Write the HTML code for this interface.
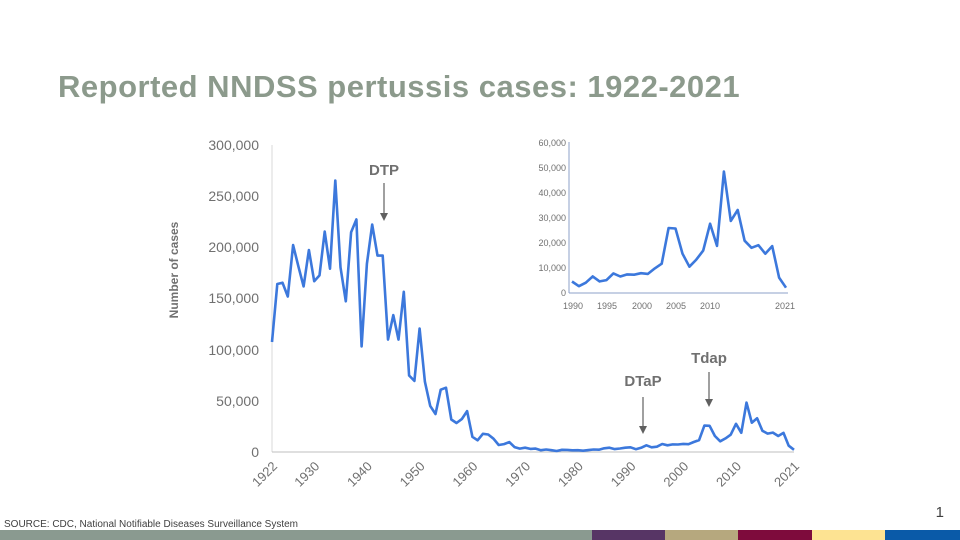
<!DOCTYPE html>
<html><head><meta charset="utf-8"><style>
body{margin:0;width:960px;height:540px;overflow:hidden;background:#fff;font-family:"Liberation Sans",sans-serif}
svg{position:absolute;left:0;top:0}
</style></head><body>
<svg id="s" width="960" height="540" xmlns="http://www.w3.org/2000/svg">
<text x="58" y="97" font-size="31" font-weight="bold" fill="#8c9a8c" letter-spacing="0.5" font-family="Liberation Sans, sans-serif">Reported NNDSS pertussis cases: 1922-2021</text>
<g font-size="14" fill="#707070" text-anchor="end" font-family="Liberation Sans, sans-serif">
<text x="259" y="150">300,000</text><text x="259" y="201">250,000</text><text x="259" y="252">200,000</text>
<text x="259" y="303">150,000</text><text x="259" y="355">100,000</text><text x="259" y="406">50,000</text><text x="259" y="457">0</text>
</g>
<text transform="translate(178,270) rotate(-90)" font-size="12" font-weight="bold" fill="#707070" text-anchor="middle">Number of cases</text>
<line x1="272" y1="145" x2="272" y2="452" stroke="#d9d9d9"/>
<line x1="272" y1="452" x2="794" y2="452" stroke="#bfbfbf"/>
<g font-size="9" fill="#707070" text-anchor="end">
<text x="566" y="146">60,000</text><text x="566" y="171">50,000</text><text x="566" y="196">40,000</text><text x="566" y="221">30,000</text><text x="566" y="246">20,000</text><text x="566" y="271">10,000</text><text x="566" y="296">0</text>
</g>
<g font-size="9" fill="#707070" text-anchor="middle">
<text x="573" y="309">1990</text><text x="607" y="309">1995</text><text x="642" y="309">2000</text><text x="676" y="309">2005</text><text x="710" y="309">2010</text><text x="785" y="309">2021</text>
</g>
<line x1="569" y1="142" x2="569" y2="293" stroke="#8ea0c8"/>
<line x1="569" y1="293" x2="788" y2="293" stroke="#8ea0c8"/>
<g font-size="15" font-weight="bold" fill="#707070" text-anchor="middle">
<text x="384" y="175">DTP</text><text x="643" y="386">DTaP</text><text x="709" y="363">Tdap</text>
</g>
<g stroke="#606060" stroke-width="1.2" fill="#606060">
<line x1="384" y1="183" x2="384" y2="214"/><polygon points="380,213 388,213 384,221" stroke="none"/>
<line x1="643" y1="397" x2="643" y2="427"/><polygon points="639,426 647,426 643,434" stroke="none"/>
<line x1="709" y1="372" x2="709" y2="400"/><polygon points="705,399 713,399 709,407" stroke="none"/>
</g>
<g id="xl" font-size="13" fill="#707070"></g>
<polyline id="m" fill="none" stroke="#3c78dc" stroke-width="2.6" stroke-linejoin="round"/>
<polyline id="i" fill="none" stroke="#3c78dc" stroke-width="2.6" stroke-linejoin="round"/>
<text x="4" y="527" font-size="10" fill="#404040">SOURCE:  CDC, National Notifiable Diseases Surveillance System</text>
<text x="944" y="517" font-size="15" fill="#404040" text-anchor="end">1</text>
<rect x="0" y="530" width="592" height="10" fill="#8a9a90"/>
<rect x="592" y="530" width="73" height="10" fill="#573565"/>
<rect x="665" y="530" width="73" height="10" fill="#b6a87e"/>
<rect x="738" y="530" width="74" height="10" fill="#7e0b3c"/>
<rect x="812" y="530" width="73" height="10" fill="#fde392"/>
<rect x="885" y="530" width="75" height="10" fill="#0a5aa8"/>
</svg>
<script>
var d=[107473,164191,165418,152003,202210,181411,161799,197371,166914,172559,215343,179135,265269,180518,147237,214652,227319,103188,183866,222202,191890,191943,109873,133792,109860,156517,74715,69479,120718,68687,45030,37129,60886,62786,31732,28295,32148,40005,14809,11468,17749,17135,13005,6799,7717,9718,4810,3285,4249,3036,3287,1759,2402,1738,1010,2177,2063,1623,1730,1248,1895,2463,2276,3589,4195,2823,3450,4157,4570,2719,4083,6586,4617,5137,7796,6564,7405,7288,7867,7580,9771,11647,25827,25616,15632,10454,13278,16858,27550,18719,48277,28639,32971,20762,17972,18975,15609,18617,6124,2116];
var p=[],q=[];
d.forEach(function(v,k){var x=272+k*(794-272)/99;p.push(x.toFixed(1)+","+(452-v*307/300000).toFixed(1));
if(k>=68){var xi=572+(k-68)*(786-572)/31;q.push(xi.toFixed(1)+","+(293-v*151/60000).toFixed(1));}});
document.getElementById("m").setAttribute("points",p.join(" "));
document.getElementById("i").setAttribute("points",q.join(" "));
var ys=[1922,1930,1940,1950,1960,1970,1980,1990,2000,2010,2021],g=document.getElementById("xl"),h="";
ys.forEach(function(y){var x=272+(y-1922)*(794-272)/99+6;h+='<text text-anchor="end" transform="translate('+x+',467) rotate(-45)">'+y+'</text>';});
g.innerHTML=h;
</script>
</body></html>
